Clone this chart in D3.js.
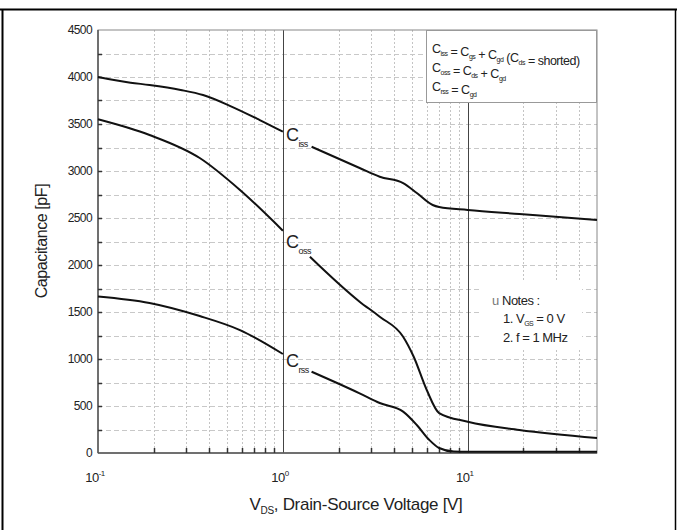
<!DOCTYPE html>
<html>
<head>
<meta charset="utf-8">
<script src="https://cdn.jsdelivr.net/npm/d3@7"></script>
<style>
  body { margin: 0; background: #fff; }
  svg { display: block; font-family: "Liberation Sans", Arial, sans-serif; }
</style>
</head>
<body>
<svg id="chart" width="677" height="530"></svg>
<script>

const issVolts = [0.1, 0.15, 0.19, 0.28, 0.37, 0.52, 0.75, 1.0, 1.43, 2.6, 3.34, 4.47, 5.3, 6.46, 7.0, 10, 19, 50];
const issCap   = [4000, 3940, 3915, 3862, 3808, 3691, 3542, 3418, 3258, 3032, 2939, 2872, 2766, 2638, 2617, 2585, 2543, 2480];

const ossVolts = [0.1, 0.19, 0.355, 0.586, 1.0, 1.4, 2.6, 3.34, 4.47, 5.1, 6.0, 7.0, 10, 19, 50];
const ossCap   = [3550, 3383, 3138, 2798, 2365, 2088, 1610, 1450, 1237, 1024, 670, 425, 333, 245, 160];

const rssVolts = [0.1, 0.19, 0.355, 0.586, 1.0, 1.43, 2.6, 3.34, 4.47, 5.3, 6.2, 7.0, 8.4, 10, 50];
const rssCap   = [1665, 1596, 1457, 1308, 1053, 865, 635, 532, 440, 298, 138, 53, 15, 12, 12];

const seriesNames = ["iss", "oss", "rss"];
const labelGap = [1.0, 1.4];   // curve is broken where the C label sits

const yTicks = [0, 500, 1000, 1500, 2000, 2500, 3000, 3500, 4000, 4500];
const xDecades = [0.1, 1, 10];
const xDecadeExp = ["-1", "0", "1"];

const legendLines = [
    [["C", "iss"], [" = C", "gs"], [" + C", "gd"], [" (C", "ds"], [" = shorted)", ""]],
    [["C", "oss"], [" = C", "ds"], [" + C", "gd"]],
    [["C", "rss"], [" = C", "gd"]]
];

const svg = d3.select("#chart");

// frame of the table cell
svg.append("line").attr("x1", 0).attr("x2", 677).attr("y1", 9.5).attr("y2", 9.5)
    .attr("stroke", "#000").attr("stroke-width", 2);
svg.append("line").attr("x1", 2.5).attr("x2", 2.5).attr("y1", 9).attr("y2", 530)
    .attr("stroke", "#000").attr("stroke-width", 2);
svg.append("line").attr("x1", 675.5).attr("x2", 675.5).attr("y1", 9).attr("y2", 530)
    .attr("stroke", "#000").attr("stroke-width", 1.5);

const x = d3.scaleLog().domain([0.1, 50]).range([98, 597]);
const y = d3.scaleLinear().domain([0, 4500]).range([453, 30]);

// minor decade values
const minorX = [];
[0.1, 1, 10].forEach(function(d) {
    for (let k = 2; k <= 9; k++) {
        if (d * k < 50) minorX.push(d * k);
    }
});
const gridY = d3.range(250, 4500, 250);

const grid = svg.append("g");

grid.selectAll(".vgrid")
    .data(minorX)
    .enter()
    .append("line")
    .attr("x1", d => Math.round(x(d)) + 0.5)
    .attr("x2", d => Math.round(x(d)) + 0.5)
    .attr("y1", y(4500))
    .attr("y2", y(0))
    .attr("stroke", "#c4c4c4")
    .attr("stroke-dasharray", "2,2");

grid.selectAll(".hgrid")
    .data(gridY)
    .enter()
    .append("line")
    .attr("x1", x(0.1))
    .attr("x2", x(50))
    .attr("y1", d => Math.round(y(d)) + 0.5)
    .attr("y2", d => Math.round(y(d)) + 0.5)
    .attr("stroke", "#c8c8c8")
    .attr("stroke-dasharray", "5,3");

// major decade lines
grid.selectAll(".major")
    .data([1, 10])
    .enter()
    .append("line")
    .attr("x1", d => Math.round(x(d)) + 0.5)
    .attr("x2", d => Math.round(x(d)) + 0.5)
    .attr("y1", y(4500))
    .attr("y2", y(0))
    .attr("stroke", "#444")
    .attr("stroke-width", 1);

// plot box
svg.append("rect")
    .attr("x", x(0.1)).attr("y", y(4500))
    .attr("width", x(50) - x(0.1)).attr("height", y(0) - y(4500))
    .attr("fill", "none").attr("stroke", "#888");
svg.append("line").attr("x1", x(0.1)).attr("x2", x(0.1)).attr("y1", y(4500)).attr("y2", y(0))
    .attr("stroke", "#555").attr("stroke-width", 1.5);
svg.append("line").attr("x1", x(0.1)).attr("x2", x(50)).attr("y1", y(0)).attr("y2", y(0))
    .attr("stroke", "#555").attr("stroke-width", 1.5);

// inward ticks
svg.append("g").selectAll("line")
    .data(minorX)
    .enter()
    .append("line")
    .attr("x1", d => Math.round(x(d)) + 0.5)
    .attr("x2", d => Math.round(x(d)) + 0.5)
    .attr("y1", y(0))
    .attr("y2", y(0) - 5)
    .attr("stroke", "#333")
    .attr("stroke-width", 1.5);

svg.append("g").selectAll("line")
    .data(gridY)
    .enter()
    .append("line")
    .attr("x1", x(0.1))
    .attr("x2", x(0.1) + 4)
    .attr("y1", d => Math.round(y(d)) + 0.5)
    .attr("y2", d => Math.round(y(d)) + 0.5)
    .attr("stroke", "#333")
    .attr("stroke-width", 1.5);

// y tick labels
svg.append("g").selectAll("text")
    .data(yTicks)
    .enter()
    .append("text")
    .attr("x", 92)
    .attr("y", d => y(d) + 4)
    .attr("text-anchor", "end")
    .attr("font-size", 12)
    .attr("letter-spacing", -0.6)
    .attr("fill", "#222")
    .text(d => d);

// x tick labels 10^n
const xLab = svg.append("g").selectAll("text")
    .data(xDecades)
    .enter()
    .append("text")
    .attr("x", d => x(d) - 3)
    .attr("y", 482)
    .attr("text-anchor", "middle")
    .attr("font-size", 13)
    .attr("letter-spacing", -0.5)
    .attr("fill", "#222");
xLab.append("tspan").text("10");
xLab.append("tspan")
    .attr("dy", -6)
    .attr("font-size", 8)
    .text((d, i) => xDecadeExp[i]);

// axis titles
svg.append("text")
    .attr("transform", "translate(47,241) rotate(-90)")
    .attr("text-anchor", "middle")
    .attr("font-size", 16)
    .attr("letter-spacing", -0.4)
    .attr("fill", "#222")
    .text("Capacitance [pF]");

const xTitle = svg.append("text")
    .attr("x", 356)
    .attr("y", 510)
    .attr("text-anchor", "middle")
    .attr("font-size", 17)
    .attr("letter-spacing", -0.3)
    .attr("fill", "#222");
xTitle.append("tspan").text("V");
xTitle.append("tspan").attr("dy", 4).attr("font-size", 10).text("DS");
xTitle.append("tspan").attr("dy", -4).text(", Drain-Source Voltage [V]");

// legend box
svg.append("rect")
    .attr("x", 426.5).attr("y", 30.5)
    .attr("width", 170).attr("height", 72)
    .attr("fill", "#fff").attr("stroke", "#999");

const legendText = svg.append("g").selectAll("text")
    .data(legendLines)
    .enter()
    .append("text")
    .attr("x", 432)
    .attr("y", (d, i) => 53 + i * 19)
    .attr("font-size", 12.5)
    .attr("letter-spacing", -0.5)
    .attr("fill", "#222");
legendText.each(function(parts) {
    const t = d3.select(this);
    parts.forEach(function(p) {
        t.append("tspan").text(p[0]);
        if (p[1]) {
            t.append("tspan").attr("dy", 3).attr("font-size", 7).text(p[1]);
            t.append("tspan").attr("dy", -3).text("");
        }
    });
});

// notes
svg.append("rect")
    .attr("x", 480).attr("y", 282)
    .attr("width", 102).attr("height", 66)
    .attr("fill", "#fff");

const notes = svg.append("g").attr("font-size", 13).attr("letter-spacing", -0.5).attr("fill", "#222");
notes.append("text").attr("x", 492).attr("y", 305).attr("fill", "#777").text("u");
notes.append("text").attr("x", 502).attr("y", 305).text("Notes :");
const n1 = notes.append("text").attr("x", 503).attr("y", 323);
n1.append("tspan").text("1. V");
n1.append("tspan").attr("dy", 3).attr("font-size", 7).text("GS");
n1.append("tspan").attr("dy", -3).text(" = 0 V");
notes.append("text").attr("x", 503).attr("y", 342).text("2. f = 1 MHz");

// curves
const seriesData = {
    iss: issVolts.map((v, i) => ({ v: v, c: issCap[i] })),
    oss: ossVolts.map((v, i) => ({ v: v, c: ossCap[i] })),
    rss: rssVolts.map((v, i) => ({ v: v, c: rssCap[i] }))
};

const line = d3.line()
    .x(d => x(d.v))
    .y(d => y(d.c))
    .curve(d3.curveMonotoneX);

const curves = svg.append("g");
seriesNames.forEach(function(name) {
    const pts = seriesData[name];
    const before = pts.filter(d => d.v <= labelGap[0]);
    const after = pts.filter(d => d.v >= labelGap[1]);
    [before, after].forEach(function(seg) {
        curves.append("path")
            .attr("d", line(seg))
            .attr("fill", "none")
            .attr("stroke", "#111")
            .attr("stroke-width", 2);
    });
});

// curve labels
const labelDrop = { iss: 9, oss: 17, rss: 13 };
seriesNames.forEach(function(name) {
    const at = seriesData[name].find(d => d.v === labelGap[0]);
    const t = svg.append("text")
        .attr("x", x(labelGap[0]) + 3)
        .attr("y", y(at.c) + labelDrop[name])
        .attr("font-size", 18)
        .attr("letter-spacing", -0.5)
        .attr("fill", "#222");
    t.append("tspan").text("C");
    t.append("tspan").attr("dy", 6).attr("font-size", 9).text(name);
});

</script>
</body>
</html>
